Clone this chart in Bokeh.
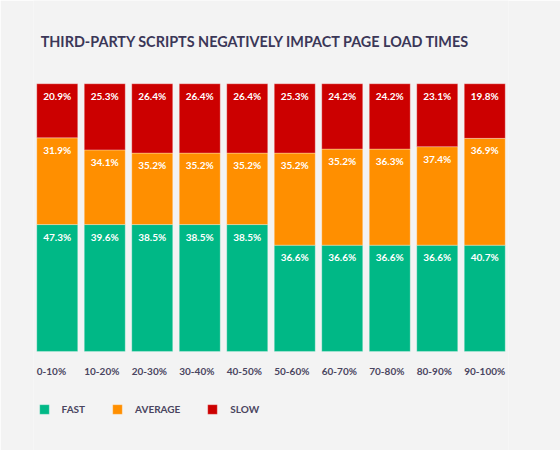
from bokeh.plotting import figure
from bokeh.models import ColumnDataSource, Legend, LegendItem, Label
from bokeh.core.properties import value
from bokeh.embed import file_html
from bokeh.resources import INLINE

# Data
categories = ["0-10%", "10-20%", "20-30%", "30-40%", "40-50%",
              "50-60%", "60-70%", "70-80%", "80-90%", "90-100%"]
series = ["FAST", "AVERAGE", "SLOW"]

# printed percentages
fast = [47.3, 39.6, 38.5, 38.5, 38.5, 36.6, 36.6, 36.6, 36.6, 40.7]
average = [31.9, 34.1, 35.2, 35.2, 35.2, 35.2, 35.2, 36.3, 37.4, 36.9]
slow = [20.9, 25.3, 26.4, 26.4, 26.4, 25.3, 24.2, 24.2, 23.1, 19.8]

# segment heights as drawn in the original (they don't follow the printed numbers)
fast_drawn = [47.4, 47.4, 47.4, 47.4, 47.4, 39.7, 39.7, 39.7, 39.7, 39.7]
average_drawn = [32.4, 27.9, 26.7, 26.7, 26.7, 34.4, 35.9, 35.9, 36.8, 39.9]
slow_drawn = [20.2, 24.7, 25.9, 25.9, 25.9, 25.9, 24.4, 24.4, 23.5, 20.4]

title_text = "THIRD-PARTY SCRIPTS NEGATIVELY IMPACT PAGE LOAD TIMES"

colors = ["#00b886", "#ff8f00", "#cc0000"]
bg = "#f3f3f3"
ink = "#3b3758"
font = "Lato"


def main():
    source = ColumnDataSource(dict(
        cat=categories,
        FAST=fast_drawn,
        AVERAGE=average_drawn,
        SLOW=slow_drawn,
    ))

    p = figure(x_range=categories, y_range=(-37.0, 131.1),
               width=560, height=450, output_backend="svg",
               toolbar_location=None, min_border_left=33, min_border_right=52,
               min_border_top=0, min_border_bottom=0)
    p.background_fill_color = bg
    p.border_fill_color = bg
    p.outline_line_color = None
    p.axis.visible = False
    p.grid.visible = False

    renderers = p.vbar_stack(series, x="cat", width=0.863, source=source,
                             color=colors, line_color="white", line_alpha=0.3,
                             line_width=1)

    # value labels near the top of each segment
    tops_fast = fast_drawn
    tops_avg = [f + a for f, a in zip(fast_drawn, average_drawn)]
    tops_slow = [t + s for t, s in zip(tops_avg, slow_drawn)]
    for tops, vals in [(tops_fast, fast), (tops_avg, average), (tops_slow, slow)]:
        lab = ColumnDataSource(dict(x=categories, y=tops,
                                    t=["%.1f%%" % v for v in vals]))
        p.text(x="x", y="y", text="t", source=lab, y_offset=12,
               text_align="center", text_baseline="middle",
               text_color="white", text_font=value(font),
               text_font_style="bold", text_font_size="10px")

    # category labels, left aligned under each bar
    ticks = ColumnDataSource(dict(x=categories, y=[-7.4] * len(categories), t=categories))
    p.text(x="x", y="y", text="t", source=ticks, x_offset=-20.5,
           text_align="left", text_baseline="middle", text_color="#4a4560",
           text_font=value(font), text_font_style="bold", text_font_size="10px")

    title = Label(x=4.672, y=115.8, text=title_text, text_align="center",
                  text_baseline="middle", text_color=ink, text_font=font,
                  text_font_style="bold", text_font_size="14.4px")
    p.add_layout(title)

    legend = Legend(items=[LegendItem(label=s, renderers=[r]) for s, r in zip(series, renderers)],
                    location=(4.6, 35), orientation="horizontal",
                    background_fill_alpha=0, border_line_alpha=0,
                    padding=0, margin=0, glyph_width=12, glyph_height=12,
                    label_height=12, label_standoff=12, spacing=26,
                    label_text_font=font, label_text_font_style="bold",
                    label_text_font_size="10px", label_text_color="#4a4560")
    p.add_layout(legend)

    open("out.html", "w").write(file_html(p, INLINE))


if __name__ == '__main__':
    main()
